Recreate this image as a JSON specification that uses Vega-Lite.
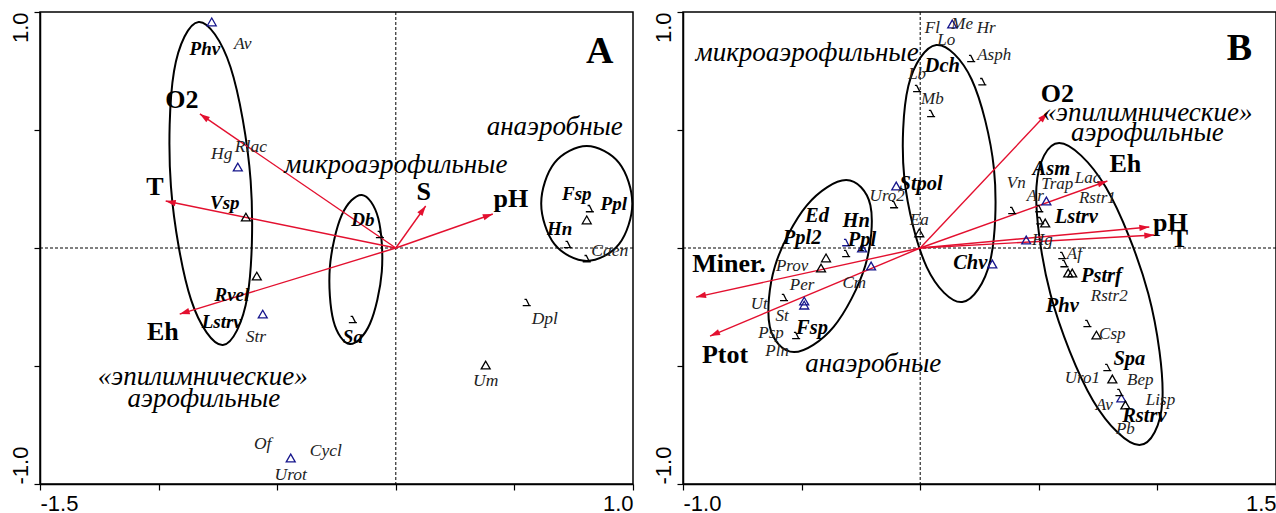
{
  "$schema": "https://vega.github.io/schema/vega-lite/v6.json",
  "background": "white",
  "padding": {"left": 8, "top": 10, "right": 0, "bottom": 0},
  "bounds": "flush",
  "spacing": 50,
  "config": {
    "view": {"stroke": "black", "strokeWidth": 1.5},
    "axis": {"grid": false, "domainColor": "black", "domainWidth": 1.5, "tickColor": "black", "tickSize": 6, "tickWidth": 1.2, "labelFont": "Liberation Sans", "labelFontSize": 22, "labelColor": "black"},
    "text": {"font": "Liberation Serif", "color": "black", "align": "center", "baseline": "middle"}
  },
  "datasets": {
    "ellA": [
      {"id": 1, "k": 1, "x": -0.831, "y": 0.958}, {"id": 1, "k": 2, "x": -0.697, "y": 0.767}, {"id": 1, "k": 3, "x": -0.612, "y": 0.286}, {"id": 1, "k": 4, "x": -0.625, "y": -0.202},
      {"id": 1, "k": 5, "x": -0.729, "y": -0.411}, {"id": 1, "k": 6, "x": -0.863, "y": -0.220}, {"id": 1, "k": 7, "x": -0.948, "y": 0.261}, {"id": 1, "k": 8, "x": -0.935, "y": 0.749},
      {"id": 2, "k": 1, "x": -0.143, "y": 0.225}, {"id": 2, "k": 2, "x": -0.074, "y": 0.126}, {"id": 2, "k": 3, "x": -0.059, "y": -0.100}, {"id": 2, "k": 4, "x": -0.109, "y": -0.321},
      {"id": 2, "k": 5, "x": -0.194, "y": -0.407}, {"id": 2, "k": 6, "x": -0.263, "y": -0.308}, {"id": 2, "k": 7, "x": -0.278, "y": -0.082}, {"id": 2, "k": 8, "x": -0.228, "y": 0.139},
      {"id": 3, "k": 1, "x": 0.805, "y": 0.432}, {"id": 3, "k": 2, "x": 0.941, "y": 0.361}, {"id": 3, "k": 3, "x": 0.997, "y": 0.189}, {"id": 3, "k": 4, "x": 0.941, "y": 0.016},
      {"id": 3, "k": 5, "x": 0.805, "y": -0.055}, {"id": 3, "k": 6, "x": 0.669, "y": 0.016}, {"id": 3, "k": 7, "x": 0.613, "y": 0.189}, {"id": 3, "k": 8, "x": 0.669, "y": 0.361}
    ],
    "arrA": [
      {"name": "O2", "x": -0.826, "y": 0.568}, {"name": "T", "x": -0.970, "y": 0.199}, {"name": "Eh", "x": -0.911, "y": -0.280},
      {"name": "S", "x": 0.126, "y": 0.178}, {"name": "pH", "x": 0.409, "y": 0.144}
    ],
    "ptsA": [
      {"x": -0.776, "y": 0.958, "form": "tri", "grp": "b"}, {"x": -0.666, "y": 0.343, "form": "tri", "grp": "b"}, {"x": -0.632, "y": 0.131, "form": "tri", "grp": "a"},
      {"x": -0.586, "y": -0.119, "form": "tri", "grp": "a"}, {"x": -0.561, "y": -0.280, "form": "tri", "grp": "b"}, {"x": -0.443, "y": -0.890, "form": "tri", "grp": "b"},
      {"x": 0.379, "y": -0.496, "form": "tri", "grp": "a"}, {"x": 0.805, "y": 0.119, "form": "tri", "grp": "a"},
      {"x": -0.067, "y": 0.055, "form": "hook", "grp": "a"}, {"x": -0.181, "y": -0.305, "form": "hook", "grp": "a"}, {"x": 0.552, "y": -0.233, "form": "hook", "grp": "a"},
      {"x": 0.818, "y": 0.165, "form": "hook", "grp": "a"}, {"x": 0.725, "y": 0.013, "form": "hook", "grp": "a"}, {"x": 0.805, "y": -0.047, "form": "hook", "grp": "a"}
    ],
    "labA": [
      {"t": "O2", "x": -0.902, "y": 0.627, "kind": "factor"}, {"t": "T", "x": -1.016, "y": 0.258, "kind": "factor"}, {"t": "Eh", "x": -0.982, "y": -0.356, "kind": "factor"},
      {"t": "S", "x": 0.118, "y": 0.237, "kind": "factor"}, {"t": "pH", "x": 0.485, "y": 0.208, "kind": "factor"},
      {"t": "Phv", "x": -0.805, "y": 0.843, "kind": "key"}, {"t": "Vsp", "x": -0.721, "y": 0.191, "kind": "key"}, {"t": "Rvel", "x": -0.691, "y": -0.199, "kind": "key"},
      {"t": "Lstrv", "x": -0.734, "y": -0.314, "kind": "key"}, {"t": "Db", "x": -0.139, "y": 0.119, "kind": "key"}, {"t": "Sa", "x": -0.181, "y": -0.377, "kind": "key"},
      {"t": "Fsp", "x": 0.763, "y": 0.229, "kind": "key"}, {"t": "Ppl", "x": 0.919, "y": 0.186, "kind": "key"}, {"t": "Hn", "x": 0.691, "y": 0.081, "kind": "key"},
      {"t": "Av", "x": -0.645, "y": 0.864, "kind": "taxon"}, {"t": "Hg", "x": -0.734, "y": 0.398, "kind": "taxon"}, {"t": "Rlac", "x": -0.611, "y": 0.428, "kind": "taxon"},
      {"t": "Str", "x": -0.590, "y": -0.377, "kind": "taxon"}, {"t": "Of", "x": -0.561, "y": -0.831, "kind": "taxon"}, {"t": "Urot", "x": -0.443, "y": -0.962, "kind": "taxon"},
      {"t": "Cycl", "x": -0.295, "y": -0.860, "kind": "taxon"}, {"t": "Um", "x": 0.379, "y": -0.564, "kind": "taxon"}, {"t": "Dpl", "x": 0.628, "y": -0.301, "kind": "taxon"},
      {"t": "Caen", "x": 0.902, "y": -0.013, "kind": "taxon"},
      {"t": "микроаэрофильные", "x": 0.0, "y": 0.352, "kind": "group"}, {"t": "анаэробные", "x": 0.670, "y": 0.513, "kind": "group"},
      {"t": "«эпилимнические»", "x": -0.814, "y": -0.547, "kind": "group"}, {"t": "аэрофильные", "x": -0.809, "y": -0.640, "kind": "group"},
      {"t": "A", "x": 0.860, "y": 0.831, "kind": "panel"}
    ],
    "ellB": [
      {"id": 1, "k": 1, "x": 0.068, "y": 0.860}, {"id": 1, "k": 2, "x": 0.217, "y": 0.714}, {"id": 1, "k": 3, "x": 0.311, "y": 0.335}, {"id": 1, "k": 4, "x": 0.295, "y": -0.055},
      {"id": 1, "k": 5, "x": 0.177, "y": -0.229}, {"id": 1, "k": 6, "x": 0.028, "y": -0.082}, {"id": 1, "k": 7, "x": -0.067, "y": 0.297}, {"id": 1, "k": 8, "x": -0.050, "y": 0.686},
      {"id": 2, "k": 1, "x": -0.312, "y": 0.288}, {"id": 2, "k": 2, "x": -0.210, "y": 0.181}, {"id": 2, "k": 3, "x": -0.232, "y": -0.076}, {"id": 2, "k": 4, "x": -0.365, "y": -0.334},
      {"id": 2, "k": 5, "x": -0.532, "y": -0.441}, {"id": 2, "k": 6, "x": -0.634, "y": -0.334}, {"id": 2, "k": 7, "x": -0.612, "y": -0.076}, {"id": 2, "k": 8, "x": -0.478, "y": 0.181},
      {"id": 3, "k": 1, "x": 0.586, "y": 0.445}, {"id": 3, "k": 2, "x": 0.782, "y": 0.258}, {"id": 3, "k": 3, "x": 0.962, "y": -0.195}, {"id": 3, "k": 4, "x": 1.021, "y": -0.647},
      {"id": 3, "k": 5, "x": 0.924, "y": -0.835}, {"id": 3, "k": 6, "x": 0.729, "y": -0.647}, {"id": 3, "k": 7, "x": 0.549, "y": -0.195}, {"id": 3, "k": 8, "x": 0.490, "y": 0.258}
    ],
    "arrB": [
      {"name": "O2", "x": 0.536, "y": 0.572}, {"name": "Eh", "x": 0.789, "y": 0.284}, {"name": "pH", "x": 0.966, "y": 0.089},
      {"name": "T", "x": 0.987, "y": 0.055}, {"name": "Miner.", "x": -0.945, "y": -0.208}, {"name": "Ptot", "x": -0.886, "y": -0.373}
    ],
    "ptsB": [
      {"x": 0.135, "y": 0.949, "form": "tri", "grp": "b"}, {"x": -0.101, "y": 0.263, "form": "tri", "grp": "b"}, {"x": -0.004, "y": 0.064, "form": "tri", "grp": "a"},
      {"x": -0.245, "y": 0.0, "form": "tri", "grp": "b"}, {"x": -0.397, "y": -0.042, "form": "tri", "grp": "a"}, {"x": -0.418, "y": -0.085, "form": "tri", "grp": "a"},
      {"x": -0.207, "y": -0.076, "form": "tri", "grp": "b"}, {"x": -0.489, "y": -0.225, "form": "tri", "grp": "b"}, {"x": -0.489, "y": -0.242, "form": "tri", "grp": "b"},
      {"x": 0.304, "y": -0.068, "form": "tri", "grp": "b"}, {"x": 0.532, "y": 0.199, "form": "tri", "grp": "b"}, {"x": 0.527, "y": 0.106, "form": "tri", "grp": "a"},
      {"x": 0.447, "y": 0.034, "form": "tri", "grp": "b"}, {"x": 0.624, "y": -0.106, "form": "tri", "grp": "a"}, {"x": 0.641, "y": -0.106, "form": "tri", "grp": "a"},
      {"x": 0.743, "y": -0.369, "form": "tri", "grp": "a"}, {"x": 0.810, "y": -0.555, "form": "tri", "grp": "a"}, {"x": 0.848, "y": -0.636, "form": "tri", "grp": "b"},
      {"x": 0.865, "y": -0.665, "form": "tri", "grp": "a"},
      {"x": 0.215, "y": 0.801, "form": "hook", "grp": "a"}, {"x": 0.262, "y": 0.703, "form": "hook", "grp": "a"}, {"x": -0.013, "y": 0.674, "form": "hook", "grp": "a"},
      {"x": 0.046, "y": 0.568, "form": "hook", "grp": "a"}, {"x": -0.110, "y": 0.182, "form": "hook", "grp": "a"}, {"x": -0.312, "y": 0.021, "form": "hook", "grp": "b"},
      {"x": -0.312, "y": -0.025, "form": "hook", "grp": "a"}, {"x": -0.574, "y": -0.212, "form": "hook", "grp": "a"}, {"x": -0.523, "y": -0.373, "form": "hook", "grp": "a"},
      {"x": 0.388, "y": 0.157, "form": "hook", "grp": "a"}, {"x": 0.502, "y": 0.165, "form": "hook", "grp": "a"}, {"x": 0.506, "y": 0.114, "form": "hook", "grp": "a"},
      {"x": 0.599, "y": -0.034, "form": "hook", "grp": "a"}, {"x": 0.608, "y": -0.068, "form": "hook", "grp": "a"}, {"x": 0.705, "y": -0.322, "form": "hook", "grp": "a"},
      {"x": 0.789, "y": -0.508, "form": "hook", "grp": "a"}, {"x": 0.840, "y": -0.614, "form": "hook", "grp": "a"}
    ],
    "labB": [
      {"t": "O2", "x": 0.578, "y": 0.653, "kind": "factor"}, {"t": "Eh", "x": 0.865, "y": 0.356, "kind": "factor"}, {"t": "pH", "x": 1.055, "y": 0.106, "kind": "factor"},
      {"t": "T", "x": 1.093, "y": 0.038, "kind": "factor"}, {"t": "Miner.", "x": -0.806, "y": -0.068, "kind": "factor"}, {"t": "Ptot", "x": -0.823, "y": -0.453, "kind": "factor"},
      {"t": "Dch", "x": 0.093, "y": 0.771, "kind": "key"}, {"t": "Stpol", "x": 0.004, "y": 0.271, "kind": "key"}, {"t": "Ed", "x": -0.435, "y": 0.136, "kind": "key"},
      {"t": "Hn", "x": -0.270, "y": 0.114, "kind": "key"}, {"t": "Ppl2", "x": -0.498, "y": 0.042, "kind": "key"}, {"t": "Ppl", "x": -0.245, "y": 0.034, "kind": "key"},
      {"t": "Fsp", "x": -0.456, "y": -0.339, "kind": "key"}, {"t": "Chv", "x": 0.211, "y": -0.064, "kind": "key"}, {"t": "Asm", "x": 0.553, "y": 0.335, "kind": "key"},
      {"t": "Lstrv", "x": 0.658, "y": 0.131, "kind": "key"}, {"t": "Pstrf", "x": 0.764, "y": -0.119, "kind": "key"}, {"t": "Phv", "x": 0.599, "y": -0.246, "kind": "key"},
      {"t": "Spa", "x": 0.882, "y": -0.470, "kind": "key"}, {"t": "Rstrv", "x": 0.945, "y": -0.712, "kind": "key"},
      {"t": "Fl", "x": 0.051, "y": 0.932, "kind": "taxon"}, {"t": "Me", "x": 0.177, "y": 0.949, "kind": "taxon"}, {"t": "Hr", "x": 0.278, "y": 0.932, "kind": "taxon"},
      {"t": "Lo", "x": 0.110, "y": 0.881, "kind": "taxon"}, {"t": "Asph", "x": 0.312, "y": 0.818, "kind": "taxon"}, {"t": "Lb", "x": -0.013, "y": 0.737, "kind": "taxon"},
      {"t": "Mb", "x": 0.051, "y": 0.631, "kind": "taxon"}, {"t": "Uro2", "x": -0.139, "y": 0.220, "kind": "taxon"}, {"t": "Ea", "x": -0.004, "y": 0.119, "kind": "taxon"},
      {"t": "Prov", "x": -0.540, "y": -0.076, "kind": "taxon"}, {"t": "Cm", "x": -0.278, "y": -0.148, "kind": "taxon"}, {"t": "Per", "x": -0.498, "y": -0.157, "kind": "taxon"},
      {"t": "Ut", "x": -0.679, "y": -0.237, "kind": "taxon"}, {"t": "St", "x": -0.582, "y": -0.288, "kind": "taxon"}, {"t": "Psp", "x": -0.629, "y": -0.360, "kind": "taxon"},
      {"t": "Pln", "x": -0.603, "y": -0.436, "kind": "taxon"}, {"t": "Vn", "x": 0.405, "y": 0.275, "kind": "taxon"}, {"t": "Trap", "x": 0.578, "y": 0.271, "kind": "taxon"},
      {"t": "Lac", "x": 0.705, "y": 0.297, "kind": "taxon"}, {"t": "Ar", "x": 0.485, "y": 0.220, "kind": "taxon"}, {"t": "Rstr1", "x": 0.747, "y": 0.212, "kind": "taxon"},
      {"t": "Hg", "x": 0.515, "y": 0.034, "kind": "taxon"}, {"t": "Af", "x": 0.650, "y": -0.025, "kind": "taxon"}, {"t": "Rstr2", "x": 0.797, "y": -0.203, "kind": "taxon"},
      {"t": "Csp", "x": 0.810, "y": -0.364, "kind": "taxon"}, {"t": "Uro1", "x": 0.684, "y": -0.551, "kind": "taxon"}, {"t": "Bep", "x": 0.928, "y": -0.559, "kind": "taxon"},
      {"t": "Lisp", "x": 1.013, "y": -0.644, "kind": "taxon"}, {"t": "Av", "x": 0.776, "y": -0.665, "kind": "taxon"}, {"t": "Pb", "x": 0.865, "y": -0.767, "kind": "taxon"},
      {"t": "микроаэрофильные", "x": -0.477, "y": 0.826, "kind": "group"}, {"t": "«эпилимнические»", "x": 0.958, "y": 0.572, "kind": "group"},
      {"t": "аэрофильные", "x": 0.958, "y": 0.487, "kind": "group"}, {"t": "анаэробные", "x": -0.198, "y": -0.492, "kind": "group"},
      {"t": "B", "x": 1.346, "y": 0.843, "kind": "panel"}
    ]
  },
  "hconcat": [
    {
      "width": 593, "height": 472,
      "layer": [
        {"data": {"values": [{}]}, "mark": {"type": "rule", "strokeDash": [3, 2], "color": "black", "strokeWidth": 1},
         "encoding": {"x": {"datum": 0, "type": "quantitative", "scale": {"domain": [-1.5, 1], "nice": false, "zero": false},
           "axis": {"title": null, "values": [-1.5, -1, -0.5, 0, 0.5, 1], "labelExpr": "datum.value == -1.5 ? '-1.5' : (datum.value == 1 ? '1.0' : '')", "labelFlush": true, "labelPadding": 3}}}},
        {"data": {"values": [{}]}, "mark": {"type": "rule", "strokeDash": [3, 2], "color": "black", "strokeWidth": 1},
         "encoding": {"y": {"datum": 0, "type": "quantitative", "scale": {"domain": [-1, 1], "nice": false, "zero": false},
           "axis": {"title": null, "values": [-1, -0.5, 0, 0.5, 1], "labelExpr": "datum.value == 1 ? '1.0' : (datum.value == -1 ? '-1.0' : '')", "labelAngle": 270, "labelAlign": {"condition": {"test": "datum.value > 0", "value": "right"}, "value": "left"}, "labelBaseline": "bottom", "labelPadding": 2}}}},
        {"data": {"name": "ellA"}, "mark": {"type": "line", "interpolate": "cardinal-closed", "color": "black", "strokeWidth": 2},
         "encoding": {"x": {"field": "x", "type": "quantitative", "title": null}, "y": {"field": "y", "type": "quantitative", "title": null}, "detail": {"field": "id"}, "order": {"field": "k"}}},
        {"data": {"name": "arrA"}, "mark": {"type": "rule", "color": "#e3102f", "strokeWidth": 1.4},
         "encoding": {"x": {"field": "x", "type": "quantitative", "title": null}, "y": {"field": "y", "type": "quantitative", "title": null}, "x2": {"datum": 0}, "y2": {"datum": 0}}},
        {"data": {"name": "arrA"}, "transform": [{"calculate": "atan2(datum.x, datum.y) * 180 / PI", "as": "ang"}],
         "mark": {"type": "point", "shape": "M0,0L0.32,1L-0.32,1Z", "filled": true, "color": "#e3102f", "opacity": 1, "size": 400},
         "encoding": {"x": {"field": "x", "type": "quantitative", "title": null}, "y": {"field": "y", "type": "quantitative", "title": null}, "angle": {"field": "ang", "type": "quantitative", "scale": null}}},
        {"data": {"name": "ptsA"}, "mark": {"type": "point", "filled": false, "strokeWidth": 1.3, "opacity": 1, "size": 80},
         "encoding": {"x": {"field": "x", "type": "quantitative", "title": null}, "y": {"field": "y", "type": "quantitative", "title": null},
           "shape": {"field": "form", "type": "nominal", "scale": {"domain": ["tri", "hook"], "range": ["triangle-up", "M-0.5,-0.8L-0.1,-0.8L0.6,0.6M-0.9,0.6L0.9,0.6"]}, "legend": null},
           "color": {"field": "grp", "type": "nominal", "scale": {"domain": ["a", "b"], "range": ["black", "#16168c"]}, "legend": null}}},
        {"data": {"name": "labA"}, "transform": [{"filter": "datum.kind == 'factor'"}], "mark": {"type": "text", "fontWeight": "bold", "fontSize": 26},
         "encoding": {"x": {"field": "x", "type": "quantitative", "title": null}, "y": {"field": "y", "type": "quantitative", "title": null}, "text": {"field": "t"}}},
        {"data": {"name": "labA"}, "transform": [{"filter": "datum.kind == 'key'"}], "mark": {"type": "text", "fontWeight": "bold", "fontStyle": "italic", "fontSize": 19},
         "encoding": {"x": {"field": "x", "type": "quantitative", "title": null}, "y": {"field": "y", "type": "quantitative", "title": null}, "text": {"field": "t"}}},
        {"data": {"name": "labA"}, "transform": [{"filter": "datum.kind == 'taxon'"}], "mark": {"type": "text", "fontStyle": "italic", "fontSize": 17.5, "color": "#222222"},
         "encoding": {"x": {"field": "x", "type": "quantitative", "title": null}, "y": {"field": "y", "type": "quantitative", "title": null}, "text": {"field": "t"}}},
        {"data": {"name": "labA"}, "transform": [{"filter": "datum.kind == 'group'"}], "mark": {"type": "text", "fontStyle": "italic", "fontSize": 27},
         "encoding": {"x": {"field": "x", "type": "quantitative", "title": null}, "y": {"field": "y", "type": "quantitative", "title": null}, "text": {"field": "t"}}},
        {"data": {"name": "labA"}, "transform": [{"filter": "datum.kind == 'panel'"}], "mark": {"type": "text", "fontWeight": "bold", "fontSize": 38},
         "encoding": {"x": {"field": "x", "type": "quantitative", "title": null}, "y": {"field": "y", "type": "quantitative", "title": null}, "text": {"field": "t"}}}
      ]
    },
    {
      "width": 593, "height": 472,
      "layer": [
        {"data": {"values": [{}]}, "mark": {"type": "rule", "strokeDash": [3, 2], "color": "black", "strokeWidth": 1},
         "encoding": {"x": {"datum": 0, "type": "quantitative", "scale": {"domain": [-1, 1.5], "nice": false, "zero": false},
           "axis": {"title": null, "values": [-1, -0.5, 0, 0.5, 1, 1.5], "labelExpr": "datum.value == -1 ? '-1.0' : (datum.value == 1.5 ? '1.5' : '')", "labelFlush": true, "labelPadding": 3}}}},
        {"data": {"values": [{}]}, "mark": {"type": "rule", "strokeDash": [3, 2], "color": "black", "strokeWidth": 1},
         "encoding": {"y": {"datum": 0, "type": "quantitative", "scale": {"domain": [-1, 1], "nice": false, "zero": false},
           "axis": {"title": null, "values": [-1, -0.5, 0, 0.5, 1], "labelExpr": "datum.value == 1 ? '1.0' : (datum.value == -1 ? '-1.0' : '')", "labelAngle": 270, "labelAlign": {"condition": {"test": "datum.value > 0", "value": "right"}, "value": "left"}, "labelBaseline": "bottom", "labelPadding": 2}}}},
        {"data": {"name": "ellB"}, "mark": {"type": "line", "interpolate": "cardinal-closed", "color": "black", "strokeWidth": 2},
         "encoding": {"x": {"field": "x", "type": "quantitative", "title": null}, "y": {"field": "y", "type": "quantitative", "title": null}, "detail": {"field": "id"}, "order": {"field": "k"}}},
        {"data": {"name": "arrB"}, "mark": {"type": "rule", "color": "#e3102f", "strokeWidth": 1.4},
         "encoding": {"x": {"field": "x", "type": "quantitative", "title": null}, "y": {"field": "y", "type": "quantitative", "title": null}, "x2": {"datum": 0}, "y2": {"datum": 0}}},
        {"data": {"name": "arrB"}, "transform": [{"calculate": "atan2(datum.x, datum.y) * 180 / PI", "as": "ang"}],
         "mark": {"type": "point", "shape": "M0,0L0.32,1L-0.32,1Z", "filled": true, "color": "#e3102f", "opacity": 1, "size": 400},
         "encoding": {"x": {"field": "x", "type": "quantitative", "title": null}, "y": {"field": "y", "type": "quantitative", "title": null}, "angle": {"field": "ang", "type": "quantitative", "scale": null}}},
        {"data": {"name": "ptsB"}, "mark": {"type": "point", "filled": false, "strokeWidth": 1.3, "opacity": 1, "size": 80},
         "encoding": {"x": {"field": "x", "type": "quantitative", "title": null}, "y": {"field": "y", "type": "quantitative", "title": null},
           "shape": {"field": "form", "type": "nominal", "scale": {"domain": ["tri", "hook"], "range": ["triangle-up", "M-0.5,-0.8L-0.1,-0.8L0.6,0.6M-0.9,0.6L0.9,0.6"]}, "legend": null},
           "color": {"field": "grp", "type": "nominal", "scale": {"domain": ["a", "b"], "range": ["black", "#16168c"]}, "legend": null}}},
        {"data": {"name": "labB"}, "transform": [{"filter": "datum.kind == 'factor'"}], "mark": {"type": "text", "fontWeight": "bold", "fontSize": 26},
         "encoding": {"x": {"field": "x", "type": "quantitative", "title": null}, "y": {"field": "y", "type": "quantitative", "title": null}, "text": {"field": "t"}}},
        {"data": {"name": "labB"}, "transform": [{"filter": "datum.kind == 'key'"}], "mark": {"type": "text", "fontWeight": "bold", "fontStyle": "italic", "fontSize": 20.5},
         "encoding": {"x": {"field": "x", "type": "quantitative", "title": null}, "y": {"field": "y", "type": "quantitative", "title": null}, "text": {"field": "t"}}},
        {"data": {"name": "labB"}, "transform": [{"filter": "datum.kind == 'taxon'"}], "mark": {"type": "text", "fontStyle": "italic", "fontSize": 17, "color": "#222222"},
         "encoding": {"x": {"field": "x", "type": "quantitative", "title": null}, "y": {"field": "y", "type": "quantitative", "title": null}, "text": {"field": "t"}}},
        {"data": {"name": "labB"}, "transform": [{"filter": "datum.kind == 'group'"}], "mark": {"type": "text", "fontStyle": "italic", "fontSize": 27},
         "encoding": {"x": {"field": "x", "type": "quantitative", "title": null}, "y": {"field": "y", "type": "quantitative", "title": null}, "text": {"field": "t"}}},
        {"data": {"name": "labB"}, "transform": [{"filter": "datum.kind == 'panel'"}], "mark": {"type": "text", "fontWeight": "bold", "fontSize": 38},
         "encoding": {"x": {"field": "x", "type": "quantitative", "title": null}, "y": {"field": "y", "type": "quantitative", "title": null}, "text": {"field": "t"}}}
      ]
    }
  ]
}
